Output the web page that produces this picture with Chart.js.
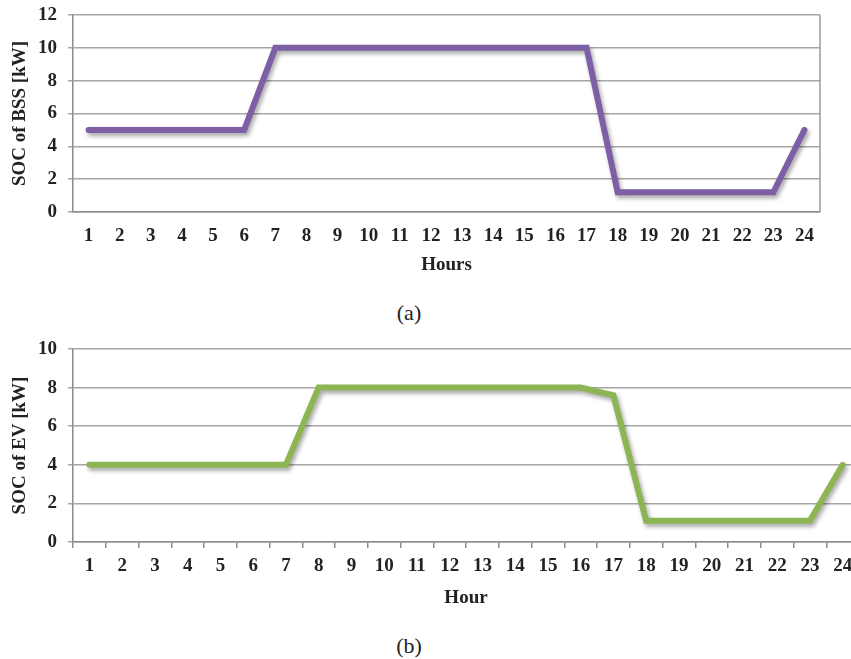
<!DOCTYPE html>
<html>
<head>
<meta charset="utf-8">
<script src="https://cdn.jsdelivr.net/npm/chart.js@4.4.0/dist/chart.umd.min.js"></script>
<style>
  html, body { margin:0; padding:0; background:#fff; overflow:hidden; }
  #page { position:relative; width:851px; height:659px; overflow:hidden; background:#fff; }
  .box { position:absolute; left:0; }
  .cap { position:absolute; font-family:"Liberation Serif","Times New Roman",serif; font-size:22px; color:#222; transform:translate(-50%,-50%); white-space:nowrap; }
</style>
</head>
<body>
<div id="page">
  <div class="box" style="top:0;width:851px;height:282px"><canvas id="cA"></canvas></div>
  <div class="cap" style="left:409px;top:313px">(a)</div>
  <div class="box" style="top:333px;width:900px;height:282px"><canvas id="cB"></canvas></div>
  <div class="cap" style="left:409px;top:646px">(b)</div>
</div>
<script>
// ---- data ----
const hours = ['1','2','3','4','5','6','7','8','9','10','11','12','13','14','15','16','17','18','19','20','21','22','23','24'];
const socBSS = [5,5,5,5,5,5,10,10,10,10,10,10,10,10,10,10,10,1.2,1.2,1.2,1.2,1.2,1.2,5];
const socEV  = [4,4,4,4,4,4,4,8,8,8,8,8,8,8,8,8,7.6,1.1,1.1,1.1,1.1,1.1,1.1,4];
const yTicksA = [0,2,4,6,8,10,12];
const yTicksB = [0,2,4,6,8,10];

const FONT = "'Liberation Serif','Times New Roman',serif";
const TXT = '#222';

const shadowPlugin = {
  id: 'lineShadow',
  beforeDatasetDraw(chart) {
    const c = chart.ctx; c.save();
    c.shadowColor = 'rgba(0,0,0,0.35)';
    c.shadowBlur = 4; c.shadowOffsetX = 2; c.shadowOffsetY = 3;
  },
  afterDatasetDraw(chart) { chart.ctx.restore(); }
};
const frameRight = {
  id: 'frameRight',
  afterDraw(chart) {
    const a = chart.chartArea, c = chart.ctx;
    c.save(); c.strokeStyle = '#9a9a9a'; c.lineWidth = 1.5;
    c.beginPath(); c.moveTo(a.right, a.top); c.lineTo(a.right, a.bottom); c.stroke();
    c.restore();
  }
};

function makeChart(id, data, color, yMax, yTicks, yTitle, xTitle, opts) {
  return new Chart(document.getElementById(id), {
    type: 'line',
    data: { labels: hours, datasets: [{ data: data, borderColor: color, borderWidth: 6,
      pointRadius: 0, tension: 0, borderCapStyle: 'round', borderJoinStyle: 'miter', fill: false }] },
    plugins: [shadowPlugin].concat(opts.frame ? [frameRight] : []),
    options: {
      responsive: true, maintainAspectRatio: false, animation: false,
      layout: { padding: { left: 0, top: opts.top, right: opts.right, bottom: 0 } },
      plugins: { legend: { display: false }, tooltip: { enabled: false } },
      scales: {
        x: {
          type: 'category', offset: true,
          grid: { display: true, drawOnChartArea: false, drawTicks: opts.xTicks, tickLength: 6, offset: true, color: '#8c8c8c', lineWidth: 1.5 },
          border: { display: true, color: '#8c8c8c', width: 1.5 },
          ticks: { color: TXT, font: { family: FONT, size: 19, weight: 'bold' }, padding: opts.xPad, autoSkip: false, maxRotation: 0 },
          title: { display: true, text: xTitle, color: TXT, font: { family: FONT, size: 19, weight: 'bold' }, padding: { top: 0, bottom: 6 } },
          afterFit(s) { s.height = opts.xH; s.paddingLeft = 0; s.paddingRight = 0; }
        },
        y: {
          min: 0, max: yMax,
          afterBuildTicks(s) { s.ticks = yTicks.map(v => ({ value: v })); },
          grid: { color: '#a6a6a6', lineWidth: 1.5, drawTicks: true, tickLength: 5 },
          border: { display: true, color: '#8c8c8c', width: 1.5 },
          ticks: { color: TXT, font: { family: FONT, size: 19, weight: 'bold' }, padding: 11 },
          title: { display: true, text: yTitle, color: TXT, font: { family: FONT, size: 19, weight: 'bold' }, padding: { top: 9, bottom: 0 } },
          afterFit(s) { s.width = 73; s.paddingTop = 0; s.paddingBottom = 0; }
        }
      }
    }
  });
}

makeChart('cA', socBSS, '#7d5fa5', 12, yTicksA, 'SOC of BSS [kW]', 'Hours',
  { top: 15, right: 31, xH: 70, xPad: 13, xTicks: false, frame: true });
makeChart('cB', socEV, '#8db553', 10, yTicksB, 'SOC of EV [kW]', 'Hour',
  { top: 16, right: 41, xH: 73, xPad: 7, xTicks: true, frame: false });
</script>
</body>
</html>
